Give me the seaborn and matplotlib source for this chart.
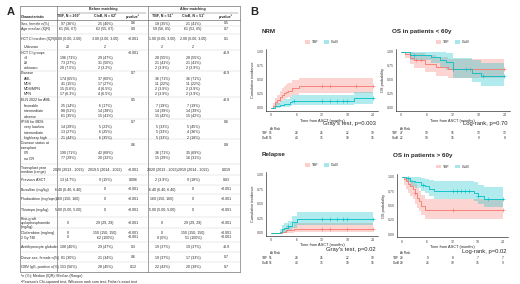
import numpy as np
import pandas as pd
import matplotlib
matplotlib.use("Agg")
import matplotlib.pyplot as plt
from matplotlib.patches import Patch
from matplotlib.transforms import blended_transform_factory
import seaborn as sns

sns.set_style("white")
plt.rcParams['font.family'] = ['Liberation Sans', 'DejaVu Sans']

TBF_COL = "#F8766D"
CLOB_COL = "#00BFC4"

# ---------------- panel A: table data ----------------
characteristics = [
    "Sex, female n(%)", "Age median (IQR)", "HCT CI median (IQR)", "  Unknown",
    "HCT CI groups", "  <3", "  \u22653", "  unknown",
    "Disease", "  AML", "  MDS", "  MDS/MPN", "  MPN",
    "ELN 2022 for AML", "  favorable", "  intermediate", "  adverse",
    "IPSS for MDS", "  very low/low", "  intermediate", "  high/very high",
    "Disease status at\ntransplant", "  CR", "  no CR",
    "Transplant year\nmedian (range)", "Previous ASCT", "Busulfan (mg/kg)",
    "Fludarabine (mg/sqm)", "Thiotepa (mg/kg)",
    "Post-graft\ncyclophosphamide\n(mg/kg)", "Clofarabine (mg/mq)", "2 Gy TBI",
    "Antithymocyte globulin", "Donor sex, female n(%)", "CMV IgG, positive n(%)",
]
tbf_before = [
    "97 (36%)", "61 (56, 67)", "0.00 (0.00, 2.00)", "20",
    "", "196 (73%)", "73 (27%)", "20 (7.5%)",
    "", "174 (65%)", "41 (15%)", "15 (5.6%)", "17 (6.3%)",
    "", "25 (14%)", "88 (51%)", "61 (35%)",
    "", "14 (29%)", "13 (27%)", "21 (44%)",
    "", "190 (71%)", "77 (29%)",
    "2020 (2013 - 2023)", "13 (4.7%)", "6.40 (6.40, 6.40)",
    "160 (150, 160)", "5.00 (5.00, 5.00)",
    "0", "0", "0",
    "108 (40%)", "81 (30%)", "153 (56%)",
]
clob_before = [
    "25 (40%)", "62 (55, 67)", "3.00 (2.00, 3.00)", "2",
    "", "29 (47%)", "31 (50%)", "2 (3.2%)",
    "", "37 (60%)", "17 (27%)", "4 (6.5%)", "4 (6.5%)",
    "", "6 (17%)", "14 (38%)", "15 (41%)",
    "", "5 (23%)", "6 (25%)", "6 (35%)",
    "", "42 (68%)", "20 (32%)",
    "2019.5 (2014 - 2022)", "9 (15%)", "0",
    "0", "0",
    "29 (29, 29)", "150 (150, 150)", "62 (100%)",
    "29 (47%)", "21 (34%)", "28 (45%)",
]
p_before = [
    "0.6", "0.9", "<0.001", "",
    "<0.001", "", "", "",
    "0.7", "", "", "", "",
    "0.5", "", "", "",
    "0.7", "", "", "",
    "0.6", "", "",
    "<0.001", "0.006", "<0.001",
    "<0.001", "<0.001",
    "<0.001", "<0.001", "<0.001",
    "0.3", "0.6", "0.12",
]
tbf_after = [
    "18 (35%)", "59 (56, 65)", "1.00 (0.00, 3.00)", "2",
    "", "28 (55%)", "21 (41%)", "2 (3.9%)",
    "", "36 (71%)", "11 (22%)", "2 (3.9%)", "2 (3.9%)",
    "", "7 (19%)", "14 (39%)", "15 (42%)",
    "", "5 (33%)", "5 (33%)", "5 (33%)",
    "", "36 (71%)", "15 (29%)",
    "2020 (2013 - 2023)", "2 (3.9%)", "6.40 (6.40, 6.40)",
    "160 (150, 160)", "5.00 (5.00, 5.00)",
    "0", "0", "0 (0%)",
    "19 (37%)", "19 (37%)", "22 (43%)",
]
clob_after = [
    "21 (41%)", "61 (52, 65)", "2.00 (0.00, 3.00)", "2",
    "", "28 (55%)", "21 (41%)", "2 (3.9%)",
    "", "36 (71%)", "11 (22%)", "2 (3.9%)", "2 (3.9%)",
    "", "7 (19%)", "14 (39%)", "15 (42%)",
    "", "5 (45%)", "4 (36%)", "2 (18%)",
    "", "35 (69%)", "16 (31%)",
    "2019 (2014 - 2022)", "9 (18%)", "0",
    "0", "0",
    "29 (29, 29)", "150 (150, 150)", "51 (100%)",
    "19 (37%)", "17 (33%)", "20 (39%)",
]
p_after = [
    "0.5", "0.7", "0.1", "",
    ">0.9", "", "", "",
    ">0.9", "", "", "", "",
    ">0.9", "", "", "",
    "0.6", "", "", "",
    "0.8", "", "",
    "0.019", "0.03", "<0.001",
    "<0.001", "<0.001",
    "<0.001", "<0.001", "<0.001",
    ">0.9", "0.7", "0.7",
]
col_headers = ["Characteristic", "TBF, N = 269\u00b9", "CloB, N = 62\u00b9", "p-value\u00b2",
               "TBF, N = 51\u00b9", "CloB, N = 51\u00b9", "p-value\u00b2"]
footnotes = ["\u00b9n (%); Median (IQR); Median (Range)",
             "\u00b2Pearson's Chi-squared test; Wilcoxon rank sum test; Fisher's exact test"]

# layout of the table (pixels)
row_y = [23.5, 29, 39, 47.5, 53, 58, 63, 68, 73.5, 79, 84, 89, 94,
         100, 106, 111, 116.5, 122, 127, 132.5, 138, 145.5, 153, 158.5,
         170, 180, 189.5, 199, 210, 223, 233, 237.5, 247, 257.5, 267]
col_x = [21, 68, 105, 133, 162, 193, 226]

# ---------------- panel B: curve data ----------------
months = [0, 6, 12, 18, 24]

nrm_tbf_t = [0, 0.5, 1, 1.5, 2, 2.5, 3, 3.5, 4, 5, 6.5, 24]
nrm_tbf_v = [0, 0.04, 0.10, 0.14, 0.20, 0.24, 0.27, 0.29, 0.31, 0.36, 0.40, 0.40]
nrm_tbf_lo = [0, 0.0, 0.03, 0.06, 0.10, 0.13, 0.16, 0.18, 0.20, 0.24, 0.27, 0.27]
nrm_tbf_hi = [0, 0.09, 0.18, 0.24, 0.30, 0.35, 0.39, 0.42, 0.45, 0.50, 0.54, 0.54]
nrm_tbf_cens = [12, 14, 20, 24]
nrm_clob_t = [0, 1, 2, 3, 4.5, 5, 19.5, 24]
nrm_clob_v = [0, 0.04, 0.06, 0.08, 0.10, 0.13, 0.17, 0.17]
nrm_clob_lo = [0, 0, 0.01, 0.02, 0.03, 0.05, 0.07, 0.07]
nrm_clob_hi = [0, 0.09, 0.13, 0.16, 0.19, 0.24, 0.29, 0.29]
nrm_clob_cens = [5.5, 12, 14, 15.5, 17, 18, 24]

rel_tbf_t = [0, 2.5, 3.5, 5.5, 24]
rel_tbf_v = [0, 0.02, 0.04, 0.07, 0.07]
rel_tbf_lo = [0, 0, 0, 0.01, 0.01]
rel_tbf_hi = [0, 0.06, 0.10, 0.16, 0.16]
rel_tbf_cens = [12, 14, 18, 24]
rel_clob_t = [0, 2, 2.5, 3, 4, 5, 6, 24]
rel_clob_v = [0, 0.02, 0.06, 0.08, 0.12, 0.18, 0.24, 0.24]
rel_clob_lo = [0, 0, 0.01, 0.02, 0.04, 0.09, 0.13, 0.13]
rel_clob_hi = [0, 0.06, 0.13, 0.16, 0.21, 0.29, 0.36, 0.36]
rel_clob_cens = [4, 12, 14, 15.5, 17, 18, 24]

os60_tbf_t = [0, 1, 2, 3, 5.5, 8, 11, 24]
os60_tbf_v = [1, 0.96, 0.89, 0.85, 0.78, 0.74, 0.70, 0.70]
os60_tbf_lo = [1, 0.89, 0.78, 0.72, 0.64, 0.58, 0.54, 0.54]
os60_tbf_hi = [1, 1, 1, 0.99, 0.95, 0.91, 0.88, 0.88]
os60_tbf_cens = [3.5, 4.5, 12, 16, 24]
os60_clob_t = [0, 2, 7, 9, 10.5, 12, 16.5, 18.5, 24]
os60_clob_v = [1, 0.95, 0.91, 0.86, 0.82, 0.69, 0.63, 0.57, 0.57]
os60_clob_lo = [1, 0.86, 0.80, 0.73, 0.68, 0.54, 0.47, 0.40, 0.40]
os60_clob_hi = [1, 1, 1, 1, 0.98, 0.90, 0.86, 0.80, 0.80]
os60_clob_cens = [3, 12, 15, 19, 24]

osold_tbf_t = [0, 0.5, 1, 1.5, 2, 2.5, 3, 3.5, 4, 4.5, 5.5, 24]
osold_tbf_v = [1, 0.96, 0.92, 0.88, 0.83, 0.79, 0.71, 0.63, 0.58, 0.50, 0.42, 0.42]
osold_tbf_lo = [1, 0.86, 0.78, 0.72, 0.66, 0.61, 0.53, 0.45, 0.40, 0.33, 0.26, 0.26]
osold_tbf_hi = [1, 1, 1, 0.98, 0.95, 0.92, 0.87, 0.80, 0.76, 0.69, 0.61, 0.61]
osold_tbf_cens = [3, 12, 24]
osold_clob_t = [0, 1, 2, 3, 4.5, 5.5, 6.5, 7.5, 17, 18, 19.5, 24]
osold_clob_v = [1, 0.97, 0.93, 0.90, 0.86, 0.83, 0.79, 0.76, 0.72, 0.67, 0.62, 0.62]
osold_clob_lo = [1, 0.90, 0.84, 0.80, 0.75, 0.71, 0.67, 0.62, 0.57, 0.52, 0.47, 0.47]
osold_clob_hi = [1, 1, 1, 1, 0.98, 0.96, 0.94, 0.93, 0.90, 0.86, 0.82, 0.82]
osold_clob_cens = [1.5, 5, 12, 13, 14, 15, 16, 18, 20.5, 24]

risk_nrm_tbf = [51, 28, 25, 22, 19]
risk_nrm_clob = [51, 40, 35, 30, 16]
risk_os60_tbf = [27, 19, 16, 13, 13]
risk_os60_clob = [22, 19, 16, 9, 8]
risk_osold_tbf = [24, 9, 8, 7, 7]
risk_osold_clob = [29, 24, 19, 15, 9]

# ---------------- figure ----------------
W, H = 520, 284
fig = plt.figure(figsize=(5.2, 2.84), dpi=100)

tab = fig.add_axes([0, 0, 1, 1])
tab.set_xlim(0, W)
tab.set_ylim(H, 0)
tab.axis('off')

fs = 2.6
tab.text(7, 12, "A", fontsize=8, weight='bold', va='center')
tab.text(250, 12, "B", fontsize=8, weight='bold', va='center')

# table grid
tab.plot([20, 240], [6, 6], color='0.3', lw=0.4)
tab.plot([20, 240], [272, 272], color='0.3', lw=0.4)
tab.plot([20, 240], [20, 20], color='0.3', lw=0.4)
tab.plot([60, 146], [12.5, 12.5], color='0.3', lw=0.3)
tab.plot([150, 238], [12.5, 12.5], color='0.3', lw=0.3)
for xv in [20, 57, 148, 240]:
    tab.plot([xv, xv], [6, 272], color='0.35', lw=0.4)
tab.text(103, 9, "Before matching", fontsize=fs, weight='bold', ha='center', va='center')
tab.text(193, 9, "After matching", fontsize=fs, weight='bold', ha='center', va='center')
for j, h in enumerate(col_headers):
    tab.text(col_x[j], 16.5, h, fontsize=fs, weight='bold',
             ha='left' if j == 0 else 'center', va='center')

columns = [tbf_before, clob_before, p_before, tbf_after, clob_after, p_after]
for i, lab in enumerate(characteristics):
    y = row_y[i]
    indent = lab.startswith("  ")
    tab.text(col_x[0] + (3 if indent else 0), y, lab.strip(), fontsize=fs,
             ha='left', va='center', linespacing=1.0)
    for j, col in enumerate(columns):
        tab.text(col_x[j + 1], y, col[i], fontsize=fs, ha='center', va='center')
    if i > 0 and not indent:
        yl = (row_y[i - 1] + y) / 2 if "\n" not in lab else y - 6.5
        if lab == "2 Gy TBI":
            continue
        tab.plot([20, 240], [yl, yl], color='0.8', lw=0.3)

tab.text(21, 276.5, footnotes[0], fontsize=fs, va='center')
tab.text(21, 281.5, footnotes[1], fontsize=fs, va='center')


def step_at(t, v, x):
    idx = np.searchsorted(t, x, side='right') - 1
    return np.asarray(v)[idx]


def km_panel(box, curves, ylabel, title, test, risk, ytxt):
    l, r, t_, b = box
    ax = fig.add_axes([l / W, 1 - b / H, (r - l) / W, (b - t_) / H])
    for t, v, lo, hi, cens, col in curves:
        df = pd.DataFrame({"time": t, "value": v})
        ax.fill_between(t, lo, hi, step='post', color=col, alpha=0.3, lw=0)
        sns.lineplot(data=df, x="time", y="value", drawstyle='steps-post',
                     color=col, lw=0.6, ax=ax, estimator=None)
        sns.scatterplot(x=cens, y=step_at(t, v, cens), marker='+', color=col,
                        s=5, linewidth=0.4, ax=ax)
    ax.set_xlim(-1.2, 25.2)
    ax.set_ylim(-0.05, 1.05)
    ax.set_xticks(months)
    ax.set_yticks([0, 0.25, 0.5, 0.75, 1.0])
    ax.set_yticklabels(["0.00", "0.25", "0.50", "0.75", "1.00"])
    ax.tick_params(labelsize=2.6, length=1, width=0.3, pad=0.8, colors='0.3')
    for s in ['left', 'bottom']:
        ax.spines[s].set_linewidth(0.4)
        ax.spines[s].set_color('black')
    sns.despine(ax=ax)
    ax.set_xlabel("Time from ASCT (months)", fontsize=2.8, labelpad=1)
    ax.set_ylabel(ylabel, fontsize=2.8, labelpad=1)
    handles = [Patch(facecolor=TBF_COL, alpha=0.35, edgecolor='none'),
               Patch(facecolor=CLOB_COL, alpha=0.35, edgecolor='none')]
    ax.legend(handles, ["TBF", "CloB"], loc='lower center', bbox_to_anchor=(0.5, 1.03),
              ncol=2, frameon=False, fontsize=2.6, handlelength=1.4, handleheight=1.2,
              columnspacing=1.5, handletextpad=0.5)
    fig.text((l - 4) / W, 1 - (t_ - 18) / H, title, fontsize=4.5, weight='bold', va='center')
    fig.text((r - 2) / W, 1 - ytxt[0] / H, test, fontsize=4.2, ha='right', va='center')
    fig.text(270 / W if l < 390 else 400 / W, 1 - ytxt[1] / H, "At Risk", fontsize=2.3, va='center')
    tr = blended_transform_factory(ax.transData, fig.transFigure)
    for k, (name, vals) in enumerate(zip(["TBF", "CloB"], risk)):
        yy = 1 - ytxt[2 + k] / H
        fig.text((l - 4) / W, yy, name, fontsize=2.3, va='center')
        for m, n in zip(months, vals):
            ax.text(m, yy, str(n), transform=tr, fontsize=2.3, ha='center', va='center')
    return ax


km_panel((266, 378, 49.2, 110.8),
         [(nrm_tbf_t, nrm_tbf_v, nrm_tbf_lo, nrm_tbf_hi, nrm_tbf_cens, TBF_COL),
          (nrm_clob_t, nrm_clob_v, nrm_clob_lo, nrm_clob_hi, nrm_clob_cens, CLOB_COL)],
         "Cumulative incidence", "NRM", "Gray's test, p=0.003",
         [risk_nrm_tbf, risk_nrm_clob], (124, 129, 133.5, 138))

km_panel((396, 509.5, 49.2, 110.8),
         [(os60_tbf_t, os60_tbf_v, os60_tbf_lo, os60_tbf_hi, os60_tbf_cens, TBF_COL),
          (os60_clob_t, os60_clob_v, os60_clob_lo, os60_clob_hi, os60_clob_cens, CLOB_COL)],
         "OS probability", "OS in patients < 60y", "Log-rank, p=0.70",
         [risk_os60_tbf, risk_os60_clob], (124, 129, 133.5, 138))

km_panel((266, 378, 172.1, 235.6),
         [(rel_tbf_t, rel_tbf_v, rel_tbf_lo, rel_tbf_hi, rel_tbf_cens, TBF_COL),
          (rel_clob_t, rel_clob_v, rel_clob_lo, rel_clob_hi, rel_clob_cens, CLOB_COL)],
         "Cumulative incidence", "Relapse", "Gray's test, p=0.02",
         [risk_nrm_tbf, risk_nrm_clob], (250, 253.5, 258, 263))

km_panel((397, 508, 173.8, 237.2),
         [(osold_tbf_t, osold_tbf_v, osold_tbf_lo, osold_tbf_hi, osold_tbf_cens, TBF_COL),
          (osold_clob_t, osold_clob_v, osold_clob_lo, osold_clob_hi, osold_clob_cens, CLOB_COL)],
         "OS probability", "OS in patients > 60y", "Log-rank, p=0.02",
         [risk_osold_tbf, risk_osold_clob], (251, 253.5, 258, 263))

fig.savefig("out.png", dpi=100)
